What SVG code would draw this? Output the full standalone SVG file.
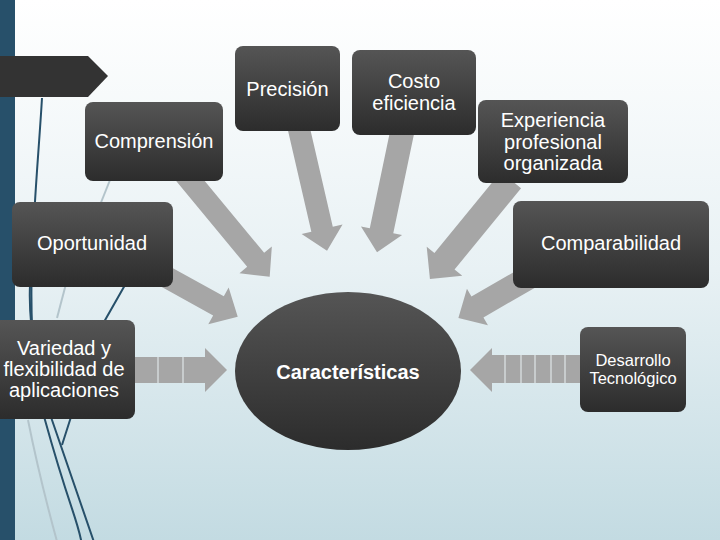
<svg xmlns="http://www.w3.org/2000/svg" width="720" height="540" viewBox="0 0 720 540">
<defs>
<linearGradient id="bg" x1="0" y1="0" x2="0" y2="1">
<stop offset="0" stop-color="#ffffff"/>
<stop offset="0.5" stop-color="#e8f1f4"/>
<stop offset="1" stop-color="#c3dbe2"/>
</linearGradient>
<linearGradient id="nodeg" x1="0" y1="0" x2="0" y2="1">
<stop offset="0" stop-color="#555555"/>
<stop offset="1" stop-color="#2c2c2c"/>
</linearGradient>
<style>
.node{fill:url(#nodeg);}
.t{font-family:"Liberation Sans",Arial,sans-serif;font-size:20px;fill:#ffffff;text-anchor:middle;}
.arr{fill:#a6a6a6;}
.seg{stroke:#e0e6e8;stroke-width:1.2;}
.dl{fill:none;stroke:#27506a;stroke-width:2;}
.gl{fill:none;stroke:#b3c4cb;stroke-width:2;}
</style>
</defs>
<rect x="0" y="0" width="720" height="540" fill="url(#bg)"/>
<rect x="0" y="0" width="15" height="540" fill="#27506a"/>
<g id="decor">
<path class="dl" d="M42,98 C36,200 20,330 45,420 S78,520 82,545"/>
<path class="dl" d="M30,285 C28,330 40,390 52,420 L95,545"/>
<path class="dl" d="M125,285 L104,322 L70,420 L62,445"/>
<path class="gl" d="M110,180 L100,205"/>
<path class="gl" d="M67,280 L57,318"/>
<path class="gl" d="M28,420 Q40,480 58,545"/>
</g>
<path id="banner" d="M0,56 L88,56 L108,76 L88,97 L0,97 Z" fill="#333333"/>
<g id="connectors">
<polygon class="arr" transform="translate(183,172) rotate(50.4)" points="0,-11 114,-11 114,-21 136,0 114,21 114,11 0,11"/>
<polygon class="arr" transform="translate(298,125) rotate(77)" points="0,-11 107,-11 107,-21 129,0 107,21 107,11 0,11"/>
<polygon class="arr" transform="translate(403,128) rotate(101.8)" points="0,-12 105,-12 105,-21 127,0 105,21 105,12 0,12"/>
<polygon class="arr" transform="translate(511,180) rotate(129.3)" points="0,-13 105,-13 105,-23 128,0 105,23 105,13 0,13"/>
<polygon class="arr" transform="translate(159,273) rotate(29)" points="0,-11 68,-11 68,-21 90,0 68,21 68,11 0,11"/>
<polygon class="arr" transform="translate(532,275.5) rotate(150)" points="0,-12 63,-12 63,-21 85,0 63,21 63,12 0,12"/>
<polygon class="arr" points="130,357 205,357 205,348 227,370 205,392 205,383 130,383"/>
<line class="seg" x1="158" y1="357" x2="158" y2="383"/>
<line class="seg" x1="183" y1="357" x2="183" y2="383"/>
<polygon class="arr" points="585,355 492,355 492,348 470,370 492,392 492,383 585,383"/>
<line class="seg" x1="505" y1="355" x2="505" y2="383"/>
<line class="seg" x1="521" y1="355" x2="521" y2="383"/>
<line class="seg" x1="535" y1="355" x2="535" y2="383"/>
<line class="seg" x1="551" y1="355" x2="551" y2="383"/>
<line class="seg" x1="565" y1="355" x2="565" y2="383"/>
</g>
<g id="precision">
<rect class="node" x="235" y="46" width="105" height="85" rx="8"/>
<text class="t" x="287.5" y="96">Precisión</text>
</g>
<g id="costo">
<rect class="node" x="352" y="50" width="124" height="85" rx="8"/>
<text class="t" x="414" y="88">Costo</text>
<text class="t" x="414" y="110">eficiencia</text>
</g>
<g id="comprension">
<rect class="node" x="85" y="102" width="138" height="79" rx="8"/>
<text class="t" x="154" y="148">Comprensión</text>
</g>
<g id="experiencia">
<rect class="node" x="478" y="100" width="150" height="83" rx="8"/>
<text class="t" x="553" y="127">Experiencia</text>
<text class="t" x="553" y="149">profesional</text>
<text class="t" x="553" y="170">organizada</text>
</g>
<g id="oportunidad">
<rect class="node" x="12" y="202" width="161" height="85" rx="8"/>
<text class="t" x="92" y="250">Oportunidad</text>
</g>
<g id="comparabilidad">
<rect class="node" x="513" y="201" width="196" height="87" rx="8"/>
<text class="t" x="611" y="250">Comparabilidad</text>
</g>
<g id="variedad">
<rect class="node" x="-10" y="320" width="145" height="99" rx="8"/>
<text class="t" x="64" y="355">Variedad y</text>
<text class="t" x="64" y="376">flexibilidad de</text>
<text class="t" x="64" y="397">aplicaciones</text>
</g>
<g id="desarrollo">
<rect class="node" x="580" y="327" width="106" height="85" rx="8"/>
<text class="t" x="633" y="366" style="font-size:16.5px">Desarrollo</text>
<text class="t" x="633" y="384" style="font-size:16.5px">Tecnológico</text>
</g>
<g id="caracteristicas">
<ellipse class="node" cx="348" cy="371" rx="113" ry="79"/>
<text class="t" x="348" y="379" style="font-weight:bold">Características</text>
</g>
</svg>
